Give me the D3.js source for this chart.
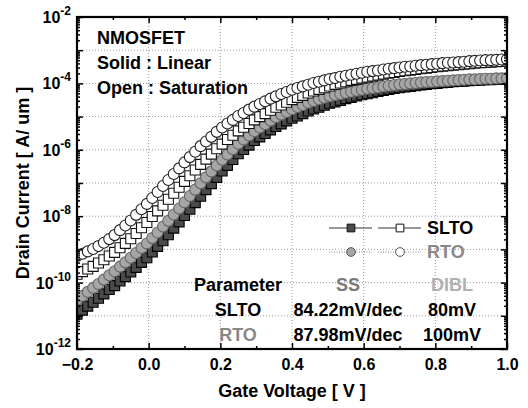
<!DOCTYPE html>
<html>
<head>
<meta charset="utf-8">
<script src="https://cdn.jsdelivr.net/npm/d3@7"></script>
<style>
body { margin: 0; background: #fff; }
text { font-family: "Liberation Sans", Arial, sans-serif; font-weight: bold; }
</style>
</head>
<body>
<div id="chart"></div>
<script>
var width = 528;
var height = 408;

// gate voltage sweep [V]
var vgs = [
    -0.2, -0.185, -0.17, -0.155, -0.14, -0.125, -0.11, -0.095, -0.08, -0.065,
    -0.05, -0.035, -0.02, -0.005, 0.01, 0.025, 0.04, 0.055, 0.07, 0.085,
    0.1, 0.115, 0.13, 0.145, 0.16, 0.175, 0.19, 0.205, 0.22, 0.235,
    0.25, 0.265, 0.28, 0.295, 0.31, 0.325, 0.34, 0.355, 0.37, 0.385,
    0.4, 0.415, 0.43, 0.445, 0.46, 0.475, 0.49, 0.505, 0.52, 0.535,
    0.55, 0.565, 0.58, 0.595, 0.61, 0.625, 0.64, 0.655, 0.67, 0.685,
    0.7, 0.715, 0.73, 0.745, 0.76, 0.775, 0.79, 0.805, 0.82, 0.835,
    0.85, 0.865, 0.88, 0.895, 0.91, 0.925, 0.94, 0.955, 0.97, 0.985,
    1.0
];

// log10 of drain current [A/um]
var sltoLin = [
    -10.95, -10.83, -10.71, -10.59, -10.47, -10.34, -10.21, -10.09, -9.95, -9.82,
    -9.68, -9.54, -9.39, -9.25, -9.08, -8.91, -8.74, -8.56, -8.36, -8.17,
    -7.98, -7.79, -7.59, -7.40, -7.20, -7.02, -6.83, -6.64, -6.47, -6.29,
    -6.12, -5.99, -5.86, -5.72, -5.61, -5.51, -5.40, -5.30, -5.22, -5.13,
    -5.05, -4.98, -4.91, -4.83, -4.77, -4.72, -4.66, -4.60, -4.56, -4.51,
    -4.46, -4.42, -4.38, -4.34, -4.31, -4.28, -4.24, -4.21, -4.18, -4.15,
    -4.13, -4.11, -4.09, -4.07, -4.05, -4.03, -4.01, -4.00, -3.98, -3.97,
    -3.95, -3.94, -3.93, -3.92, -3.91, -3.90, -3.89, -3.89, -3.88, -3.87,
    -3.87
];
var rtoLin = [
    -10.52, -10.40, -10.28, -10.16, -10.04, -9.91, -9.78, -9.66, -9.52, -9.39,
    -9.25, -9.11, -8.96, -8.82, -8.66, -8.49, -8.31, -8.14, -7.95, -7.77,
    -7.58, -7.39, -7.20, -7.01, -6.83, -6.65, -6.47, -6.30, -6.14, -5.98,
    -5.82, -5.69, -5.57, -5.44, -5.33, -5.23, -5.12, -5.02, -4.94, -4.86,
    -4.78, -4.71, -4.65, -4.58, -4.53, -4.48, -4.43, -4.39, -4.35, -4.32,
    -4.28, -4.25, -4.22, -4.19, -4.16, -4.14, -4.12, -4.09, -4.07, -4.05,
    -4.03, -4.02, -4.00, -3.99, -3.97, -3.96, -3.95, -3.94, -3.93, -3.92,
    -3.91, -3.90, -3.89, -3.88, -3.88, -3.87, -3.86, -3.86, -3.85, -3.85,
    -3.84
];
var sltoSat = [
    -9.75, -9.67, -9.59, -9.51, -9.41, -9.31, -9.20, -9.09, -8.95, -8.82,
    -8.68, -8.52, -8.35, -8.19, -8.01, -7.84, -7.67, -7.49, -7.31, -7.13,
    -6.95, -6.78, -6.61, -6.44, -6.28, -6.13, -5.97, -5.83, -5.69, -5.56,
    -5.43, -5.32, -5.21, -5.10, -5.00, -4.91, -4.81, -4.72, -4.65, -4.57,
    -4.49, -4.42, -4.36, -4.29, -4.23, -4.18, -4.13, -4.08, -4.03, -3.99,
    -3.95, -3.91, -3.88, -3.84, -3.81, -3.78, -3.75, -3.72, -3.69, -3.67,
    -3.64, -3.62, -3.60, -3.58, -3.56, -3.54, -3.52, -3.50, -3.48, -3.47,
    -3.45, -3.44, -3.42, -3.41, -3.39, -3.38, -3.37, -3.36, -3.35, -3.34,
    -3.33
];
var rtoSat = [
    -9.20, -9.13, -9.06, -8.99, -8.90, -8.80, -8.69, -8.57, -8.42, -8.28,
    -8.13, -7.96, -7.79, -7.63, -7.45, -7.27, -7.09, -6.91, -6.73, -6.56,
    -6.38, -6.22, -6.06, -5.89, -5.75, -5.61, -5.46, -5.33, -5.21, -5.10,
    -4.98, -4.89, -4.79, -4.70, -4.62, -4.54, -4.46, -4.39, -4.32, -4.26,
    -4.19, -4.14, -4.09, -4.04, -3.99, -3.95, -3.91, -3.87, -3.84, -3.80,
    -3.77, -3.74, -3.71, -3.68, -3.65, -3.63, -3.61, -3.58, -3.56, -3.54,
    -3.52, -3.50, -3.49, -3.47, -3.45, -3.44, -3.42, -3.41, -3.39, -3.38,
    -3.37, -3.36, -3.35, -3.33, -3.32, -3.31, -3.30, -3.30, -3.29, -3.28,
    -3.27
];

var xTicks = [-0.2, 0.0, 0.2, 0.4, 0.6, 0.8, 1.0];
var xMinorTicks = [-0.1, 0.1, 0.3, 0.5, 0.7, 0.9];
var yLabelExps = [-2, -4, -6, -8, -10, -12];
var notes = ["NMOSFET", "Solid : Linear", "Open : Saturation"];
var tableRows = [
    ["Parameter", "SS", "DIBL"],
    ["SLTO", "84.22mV/dec", "80mV"],
    ["RTO", "87.98mV/dec", "100mV"]
];

var plot = {left: 77, right: 507, top: 17, bottom: 349};

var svg = d3.select("#chart").append("svg")
    .attr("width", width)
    .attr("height", height);

var x = d3.scaleLinear().domain([-0.2, 1.0]).range([plot.left, plot.right]);
var y = d3.scaleLog().domain([1e-12, 1e-2]).range([plot.bottom, plot.top]);

var decades = d3.range(-12, -1);   // 10^-12 .. 10^-2
var minorY = [];
decades.forEach(function(d) {
    if (d >= -2) return;
    for (var m = 2; m <= 9; m++) minorY.push(m * Math.pow(10, d));
});

// dotted grid
var grid = svg.append("g").attr("stroke", "#9a9a9a").attr("stroke-dasharray", "1,2");
grid.selectAll("line.h")
    .data(decades.filter(function(d) { return d > -12 && d < -2; }))
    .enter().append("line")
        .attr("x1", plot.left).attr("x2", plot.right)
        .attr("y1", function(d) { return y(Math.pow(10, d)); })
        .attr("y2", function(d) { return y(Math.pow(10, d)); });
grid.selectAll("line.v")
    .data(xTicks.filter(function(d) { return d > -0.2 && d < 1.0; }))
    .enter().append("line")
        .attr("y1", plot.top).attr("y2", plot.bottom)
        .attr("x1", function(d) { return x(d); })
        .attr("x2", function(d) { return x(d); });

// data markers
svg.append("clipPath").attr("id", "clip")
    .append("rect")
    .attr("x", plot.left).attr("y", plot.top)
    .attr("width", plot.right - plot.left)
    .attr("height", plot.bottom - plot.top);

var series = [
    {vals: sltoLin, shape: d3.symbolSquare, size: 100, fill: "#4a4a4a", stroke: "#000"},
    {vals: rtoLin, shape: d3.symbolCircle, size: 95, fill: "#a6a6a6", stroke: "#666"},
    {vals: sltoSat, shape: d3.symbolSquare, size: 100, fill: "#fff", stroke: "#111"},
    {vals: rtoSat, shape: d3.symbolCircle, size: 95, fill: "#fff", stroke: "#222"}
];

var marks = svg.append("g").attr("clip-path", "url(#clip)");
var lineGen = d3.line()
    .x(function(d) { return x(d[0]); })
    .y(function(d) { return y(Math.pow(10, d[1])); });

series.forEach(function(s) {
    var pts = vgs.map(function(v, i) { return [v, s.vals[i]]; });
    var sym = d3.symbol().type(s.shape).size(s.size);
    marks.append("path")
        .attr("d", lineGen(pts))
        .attr("fill", "none")
        .attr("stroke", s.stroke)
        .attr("stroke-width", 1);
    marks.selectAll(null)
        .data(pts)
        .enter().append("path")
            .attr("transform", function(d) { return "translate(" + x(d[0]) + "," + y(Math.pow(10, d[1])) + ")"; })
            .attr("d", sym())
            .attr("fill", s.fill)
            .attr("stroke", s.stroke)
            .attr("stroke-width", 1.1);
});

// axes, ticks pointing inward
function addAxis(axis, tx, ty) {
    var g = svg.append("g")
        .attr("transform", "translate(" + tx + "," + ty + ")")
        .call(axis);
    g.select(".domain").remove();
    g.selectAll("line").attr("stroke", "#000").attr("stroke-width", 1.5);
    return g;
}

var xAxis = addAxis(d3.axisBottom(x).tickValues(xTicks).tickSize(-6).tickPadding(10)
    .tickFormat(d3.format(".1f")), 0, plot.bottom);
xAxis.selectAll("text").attr("font-size", 16).attr("fill", "#000")
    .style("font-family", "'Liberation Sans', Arial, sans-serif").style("font-weight", "bold");
addAxis(d3.axisBottom(x).tickValues(xMinorTicks).tickSize(-3).tickFormat(""), 0, plot.bottom);
addAxis(d3.axisTop(x).tickValues(xTicks).tickSize(-6).tickFormat(""), 0, plot.top);
addAxis(d3.axisTop(x).tickValues(xMinorTicks).tickSize(-3).tickFormat(""), 0, plot.top);

var majorY = decades.map(function(d) { return Math.pow(10, d); });
addAxis(d3.axisLeft(y).tickValues(majorY).tickSize(-6).tickFormat(""), plot.left, 0);
addAxis(d3.axisLeft(y).tickValues(minorY).tickSize(-3).tickFormat(""), plot.left, 0);
addAxis(d3.axisRight(y).tickValues(majorY).tickSize(-6).tickFormat(""), plot.right, 0);
addAxis(d3.axisRight(y).tickValues(minorY).tickSize(-3).tickFormat(""), plot.right, 0);

// frame
svg.append("rect")
    .attr("x", plot.left).attr("y", plot.top)
    .attr("width", plot.right - plot.left)
    .attr("height", plot.bottom - plot.top)
    .attr("fill", "none")
    .attr("stroke", "#000")
    .attr("stroke-width", 2.2);

// y tick labels 10^n
var yl = svg.selectAll("text.ylab")
    .data(yLabelExps)
    .enter().append("text")
        .attr("class", "ylab")
        .attr("x", 71)
        .attr("y", function(d) { return y(Math.pow(10, d)) + 6; })
        .attr("text-anchor", "end")
        .attr("font-size", 16)
        .text("10");
yl.append("tspan")
    .attr("dy", -8)
    .attr("font-size", 12)
    .text(function(d) { return d; });

// axis titles
svg.append("text")
    .attr("x", (plot.left + plot.right) / 2)
    .attr("y", 397)
    .attr("text-anchor", "middle")
    .attr("font-size", 18)
    .text("Gate Voltage [ V ]");

svg.append("text")
    .attr("transform", "translate(29," + (plot.top + plot.bottom) / 2 + ") rotate(-90)")
    .attr("text-anchor", "middle")
    .attr("font-size", 18)
    .text("Drain Current [ A/ um ]");

// notes top-left
svg.selectAll("text.note")
    .data(notes)
    .enter().append("text")
        .attr("class", "note")
        .attr("x", 97)
        .attr("y", function(d, i) { return 44 + i * 25; })
        .attr("font-size", 18)
        .text(function(d) { return d; });

// legend
var legend = [
    {name: "SLTO", color: "#000", y: 228, shape: d3.symbolSquare, fills: ["#4a4a4a", "#fff"], stroke: "#111", dash: null, line: "#333"},
    {name: "RTO", color: "#888", y: 252, shape: d3.symbolCircle, fills: ["#a6a6a6", "#fff"], stroke: "#555", dash: "1,1.5", line: "#888"}
];
legend.forEach(function(l) {
    [[329, 372, 351], [378, 421, 400]].forEach(function(seg, j) {
        svg.append("line")
            .attr("x1", seg[0]).attr("x2", seg[1])
            .attr("y1", l.y).attr("y2", l.y)
            .attr("stroke", l.line)
            .attr("stroke-width", 1)
            .attr("stroke-dasharray", l.dash);
        svg.append("path")
            .attr("transform", "translate(" + seg[2] + "," + l.y + ")")
            .attr("d", d3.symbol().type(l.shape).size(60)())
            .attr("fill", l.fills[j])
            .attr("stroke", l.stroke);
    });
    svg.append("text")
        .attr("x", 427)
        .attr("y", l.y + 6)
        .attr("font-size", 18)
        .attr("fill", l.color)
        .text(l.name);
});

// parameter table
var colX = [238, 348, 452];
var cellColor = [
    ["#000", "#7a7a7a", "#b0b0b0"],
    ["#000", "#000", "#000"],
    ["#888", "#000", "#000"]
];
tableRows.forEach(function(row, r) {
    row.forEach(function(cell, c) {
        svg.append("text")
            .attr("x", colX[c])
            .attr("y", 291 + r * 25)
            .attr("text-anchor", "middle")
            .attr("font-size", 18)
            .attr("fill", cellColor[r][c])
            .text(cell);
    });
});
</script>
</body>
</html>
